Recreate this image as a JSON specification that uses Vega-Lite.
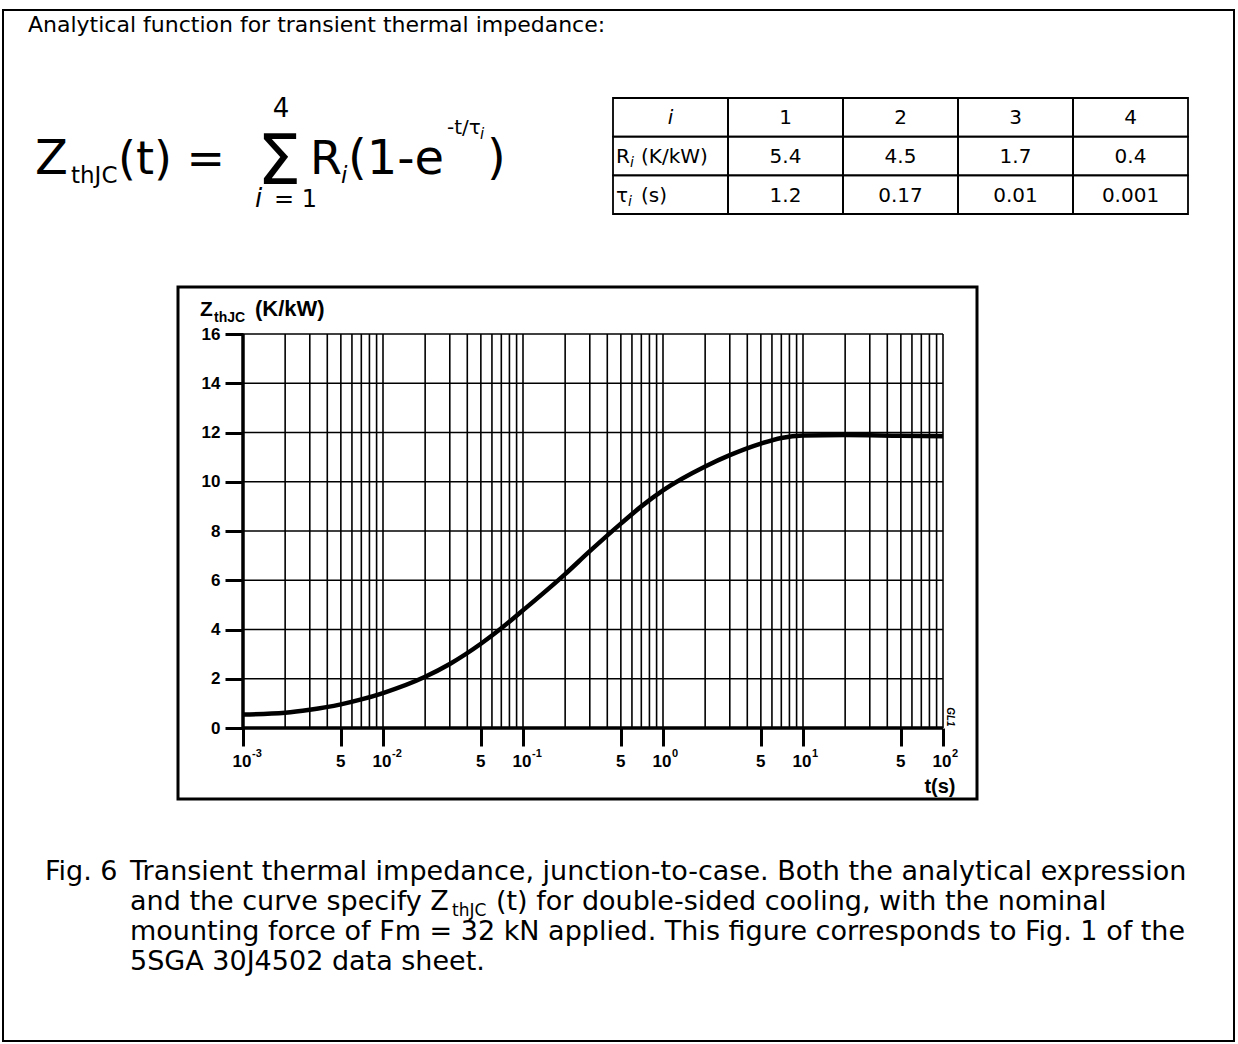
{
  "$schema": "https://vega.github.io/schema/vega-lite/v6.json",
  "background": "white",
  "width": 1231,
  "height": 1031,
  "autosize": {"type": "none"},
  "padding": {"left": 3, "top": 10, "right": 4, "bottom": 3},
  "view": {"stroke": "black", "strokeWidth": 2},
  "config": {
    "text": {"color": "black"},
    "rule": {"color": "black"},
    "line": {"color": "black"}
  },
  "datasets": {
    "curve": [
      {"t": 0.001, "z": 0.55}, {"t": 0.002, "z": 0.62}, {"t": 0.003, "z": 0.74},
      {"t": 0.005, "z": 0.96}, {"t": 0.007, "z": 1.16}, {"t": 0.01, "z": 1.42},
      {"t": 0.02, "z": 2.08}, {"t": 0.03, "z": 2.6}, {"t": 0.05, "z": 3.42},
      {"t": 0.07, "z": 4.05}, {"t": 0.1, "z": 4.78}, {"t": 0.2, "z": 6.25},
      {"t": 0.3, "z": 7.18}, {"t": 0.5, "z": 8.3}, {"t": 0.7, "z": 9.0},
      {"t": 1, "z": 9.65}, {"t": 2, "z": 10.62}, {"t": 3, "z": 11.08},
      {"t": 5, "z": 11.55}, {"t": 7, "z": 11.78}, {"t": 10, "z": 11.88},
      {"t": 20, "z": 11.9}, {"t": 50, "z": 11.87}, {"t": 100, "z": 11.85}
    ],
    "vgrid": [
      {"t": 0.002}, {"t": 0.003}, {"t": 0.004}, {"t": 0.005}, {"t": 0.006}, {"t": 0.007}, {"t": 0.008}, {"t": 0.009},
      {"t": 0.01}, {"t": 0.02}, {"t": 0.03}, {"t": 0.04}, {"t": 0.05}, {"t": 0.06}, {"t": 0.07}, {"t": 0.08}, {"t": 0.09},
      {"t": 0.1}, {"t": 0.2}, {"t": 0.3}, {"t": 0.4}, {"t": 0.5}, {"t": 0.6}, {"t": 0.7}, {"t": 0.8}, {"t": 0.9},
      {"t": 1}, {"t": 2}, {"t": 3}, {"t": 4}, {"t": 5}, {"t": 6}, {"t": 7}, {"t": 8}, {"t": 9},
      {"t": 10}, {"t": 20}, {"t": 30}, {"t": 40}, {"t": 50}, {"t": 60}, {"t": 70}, {"t": 80}, {"t": 90},
      {"t": 100}
    ],
    "hgrid": [
      {"z": 2}, {"z": 4}, {"z": 6}, {"z": 8}, {"z": 10}, {"z": 12}, {"z": 14}, {"z": 16}
    ],
    "xlabels": [
      {"t": 0.001, "base": "10", "exp": "-3"},
      {"t": 0.005, "base": "5", "exp": ""},
      {"t": 0.01, "base": "10", "exp": "-2"},
      {"t": 0.05, "base": "5", "exp": ""},
      {"t": 0.1, "base": "10", "exp": "-1"},
      {"t": 0.5, "base": "5", "exp": ""},
      {"t": 1, "base": "10", "exp": "0"},
      {"t": 5, "base": "5", "exp": ""},
      {"t": 10, "base": "10", "exp": "1"},
      {"t": 50, "base": "5", "exp": ""},
      {"t": 100, "base": "10", "exp": "2"}
    ],
    "table": [
      {"row": "i", "col": "h", "text": "i", "unit": ""},
      {"row": "i", "col": "1", "text": "1", "unit": ""},
      {"row": "i", "col": "2", "text": "2", "unit": ""},
      {"row": "i", "col": "3", "text": "3", "unit": ""},
      {"row": "i", "col": "4", "text": "4", "unit": ""},
      {"row": "R", "col": "h", "text": "R", "unit": "(K/kW)"},
      {"row": "R", "col": "1", "text": "5.4", "unit": ""},
      {"row": "R", "col": "2", "text": "4.5", "unit": ""},
      {"row": "R", "col": "3", "text": "1.7", "unit": ""},
      {"row": "R", "col": "4", "text": "0.4", "unit": ""},
      {"row": "tau", "col": "h", "text": "τ", "unit": "(s)"},
      {"row": "tau", "col": "1", "text": "1.2", "unit": ""},
      {"row": "tau", "col": "2", "text": "0.17", "unit": ""},
      {"row": "tau", "col": "3", "text": "0.01", "unit": ""},
      {"row": "tau", "col": "4", "text": "0.001", "unit": ""}
    ]
  },
  "resolve": {
    "scale": {"x": "independent", "y": "independent"},
    "axis": {"x": "independent", "y": "independent"}
  },
  "layer": [
    {
      "data": {"values": [{"block": "page text"}]},
      "layer": [
        {"mark": {"type": "text", "text": "Analytical function for transient thermal impedance:", "font": "DejaVu Sans", "fontSize": 22, "align": "left", "baseline": "alphabetic", "dx": -590.5, "dy": -493.5}},
        {"mark": {"type": "text", "text": "Z", "font": "DejaVu Sans", "fontSize": 48, "align": "left", "baseline": "alphabetic", "dx": -583.5, "dy": -351.5}},
        {"mark": {"type": "text", "text": "thJC", "font": "DejaVu Sans", "fontSize": 23, "align": "left", "baseline": "alphabetic", "dx": -547.5, "dy": -342.5}},
        {"mark": {"type": "text", "text": "(t) =", "font": "DejaVu Sans", "fontSize": 46, "align": "left", "baseline": "alphabetic", "dx": -500.5, "dy": -351.5}},
        {"mark": {"type": "text", "text": "Σ", "font": "DejaVu Sans", "fontSize": 70, "align": "center", "baseline": "alphabetic", "dx": -339.5, "dy": -341.5}},
        {"mark": {"type": "text", "text": "4", "font": "DejaVu Sans", "fontSize": 26, "align": "center", "baseline": "alphabetic", "dx": -337.5, "dy": -408.5}},
        {"mark": {"type": "text", "text": "i", "font": "DejaVu Sans", "fontStyle": "italic", "fontSize": 26, "align": "left", "baseline": "alphabetic", "dx": -363.5, "dy": -318.5}},
        {"mark": {"type": "text", "text": "= 1", "font": "DejaVu Sans", "fontSize": 24, "align": "left", "baseline": "alphabetic", "dx": -344.5, "dy": -318.5}},
        {"mark": {"type": "text", "text": "R", "font": "DejaVu Sans", "fontSize": 46, "align": "left", "baseline": "alphabetic", "dx": -308.5, "dy": -351.5}},
        {"mark": {"type": "text", "text": "i", "font": "DejaVu Sans", "fontStyle": "italic", "fontSize": 23, "align": "left", "baseline": "alphabetic", "dx": -277.5, "dy": -342.5}},
        {"mark": {"type": "text", "text": "(1-e", "font": "DejaVu Sans", "fontSize": 48, "align": "left", "baseline": "alphabetic", "dx": -270.5, "dy": -351.5}},
        {"mark": {"type": "text", "text": "-t/τ", "font": "DejaVu Sans", "fontSize": 20, "align": "left", "baseline": "alphabetic", "dx": -171.5, "dy": -391.5}},
        {"mark": {"type": "text", "text": "i", "font": "DejaVu Sans", "fontStyle": "italic", "fontSize": 15, "align": "left", "baseline": "alphabetic", "dx": -138.5, "dy": -386.5}},
        {"mark": {"type": "text", "text": ")", "font": "DejaVu Sans", "fontSize": 48, "align": "left", "baseline": "alphabetic", "dx": -131.5, "dy": -351.5}},
        {"mark": {"type": "text", "text": "Fig. 6", "font": "DejaVu Sans", "fontSize": 27, "align": "left", "baseline": "alphabetic", "dx": -573.5, "dy": 354.5}},
        {"mark": {"type": "text", "text": "Transient thermal impedance, junction-to-case. Both the analytical expression", "font": "DejaVu Sans", "fontSize": 27, "align": "left", "baseline": "alphabetic", "dx": -488.5, "dy": 354.5}},
        {"mark": {"type": "text", "text": "and the curve specify Z", "font": "DejaVu Sans", "fontSize": 27, "align": "left", "baseline": "alphabetic", "dx": -488.5, "dy": 384.5}},
        {"mark": {"type": "text", "text": "thJC", "font": "DejaVu Sans", "fontSize": 17, "align": "left", "baseline": "alphabetic", "dx": -166.5, "dy": 390.5}},
        {"mark": {"type": "text", "text": "(t) for double-sided cooling, with the nominal", "font": "DejaVu Sans", "fontSize": 27, "align": "left", "baseline": "alphabetic", "dx": -122.5, "dy": 384.5}},
        {"mark": {"type": "text", "text": "mounting force of Fm = 32 kN applied. This figure corresponds to Fig. 1 of the", "font": "DejaVu Sans", "fontSize": 27, "align": "left", "baseline": "alphabetic", "dx": -488.5, "dy": 414.5}},
        {"mark": {"type": "text", "text": "5SGA 30J4502 data sheet.", "font": "DejaVu Sans", "fontSize": 27, "align": "left", "baseline": "alphabetic", "dx": -488.5, "dy": 444.5}}
      ]
    },
    {
      "data": {"name": "table"},
      "encoding": {
        "x": {"field": "col", "type": "nominal", "scale": {"domain": ["h", "1", "2", "3", "4"], "range": [610, 1185], "paddingInner": 0, "paddingOuter": 0}, "axis": null},
        "y": {"field": "row", "type": "nominal", "scale": {"domain": ["i", "R", "tau"], "range": [88, 204], "paddingInner": 0, "paddingOuter": 0}, "axis": null}
      },
      "layer": [
        {
          "mark": {"type": "rect", "filled": false, "color": "black", "strokeWidth": 1.8}
        },
        {
          "transform": [{"filter": "datum.col != 'h'"}],
          "mark": {"type": "text", "font": "DejaVu Sans", "fontSize": 20, "align": "center", "baseline": "middle", "dy": 1},
          "encoding": {"text": {"field": "text"}}
        },
        {
          "transform": [{"filter": "datum.col == 'h' && datum.row == 'i'"}],
          "mark": {"type": "text", "font": "DejaVu Sans", "fontStyle": "italic", "fontSize": 20, "align": "center", "baseline": "middle", "dy": 1},
          "encoding": {"text": {"field": "text"}}
        },
        {
          "transform": [{"filter": "datum.col == 'h' && datum.row != 'i'"}],
          "mark": {"type": "text", "font": "DejaVu Sans", "fontSize": 20, "align": "left", "baseline": "middle", "dx": 3, "dy": 1},
          "encoding": {"x": {"field": "col", "type": "nominal", "bandPosition": 0}, "text": {"field": "text"}}
        },
        {
          "transform": [{"filter": "datum.col == 'h' && datum.row == 'R'"}],
          "mark": {"type": "text", "text": "i", "font": "DejaVu Sans", "fontStyle": "italic", "fontSize": 14, "align": "left", "baseline": "middle", "dx": 17, "dy": 7},
          "encoding": {"x": {"field": "col", "type": "nominal", "bandPosition": 0}}
        },
        {
          "transform": [{"filter": "datum.col == 'h' && datum.row == 'tau'"}],
          "mark": {"type": "text", "text": "i", "font": "DejaVu Sans", "fontStyle": "italic", "fontSize": 14, "align": "left", "baseline": "middle", "dx": 15, "dy": 7},
          "encoding": {"x": {"field": "col", "type": "nominal", "bandPosition": 0}}
        },
        {
          "transform": [{"filter": "datum.col == 'h' && datum.row != 'i'"}],
          "mark": {"type": "text", "font": "DejaVu Sans", "fontSize": 20, "align": "left", "baseline": "middle", "dx": 28, "dy": 1},
          "encoding": {"x": {"field": "col", "type": "nominal", "bandPosition": 0}, "text": {"field": "unit"}}
        }
      ]
    },
    {
      "data": {"values": [{"frame": "chart"}]},
      "mark": {"type": "rect", "filled": false, "color": "black", "strokeWidth": 3},
      "encoding": {
        "x": {"field": "frame", "type": "nominal", "scale": {"range": [175, 974], "paddingInner": 0, "paddingOuter": 0}, "axis": null},
        "y": {"field": "frame", "type": "nominal", "scale": {"range": [277, 789], "paddingInner": 0, "paddingOuter": 0}, "axis": null}
      }
    },
    {
      "layer": [
        {
          "data": {"name": "hgrid"},
          "mark": {"type": "rule", "strokeWidth": 1.6},
          "encoding": {
            "x": {"datum": 0.001, "scale": {"type": "log", "domain": [0.001, 100], "range": [240, 940], "nice": false}},
            "x2": {"datum": 100},
            "y": {
              "field": "z", "type": "quantitative",
              "scale": {"type": "linear", "domain": [0, 16], "range": [718, 324], "nice": false, "zero": false},
              "axis": {
                "values": [0, 2, 4, 6, 8, 10, 12, 14, 16],
                "format": "d",
                "offset": -240, "domain": false, "grid": false,
                "tickSize": 18, "tickWidth": 3, "tickColor": "black",
                "labelFont": "Liberation Sans", "labelFontSize": 17, "labelFontWeight": "bold", "labelColor": "black",
                "labelPadding": 5, "labelOverlap": false, "labelFlush": false, "labelBound": false,
                "title": null
              }
            }
          }
        },
        {
          "data": {"name": "vgrid"},
          "mark": {"type": "rule", "strokeWidth": 1.6},
          "encoding": {
            "x": {
              "field": "t", "type": "quantitative",
              "scale": {"type": "log", "domain": [0.001, 100], "range": [240, 940], "nice": false},
              "axis": {
                "values": [0.001, 0.005, 0.01, 0.05, 0.1, 0.5, 1, 5, 10, 50, 100],
                "labels": false,
                "offset": -313, "domain": false, "grid": false,
                "tickSize": 18, "tickWidth": 3, "tickColor": "black",
                "title": "t(s)", "titleFont": "Liberation Sans", "titleFontSize": 20, "titleFontWeight": "bold", "titleColor": "black",
                "titleX": 952, "titleY": 64, "titleAlign": "right", "titleBaseline": "alphabetic"
              }
            },
            "y": {"datum": 0, "scale": {"type": "linear", "domain": [0, 16], "range": [718, 324], "nice": false, "zero": false}},
            "y2": {"datum": 16}
          }
        },
        {
          "data": {"values": [{"line": "time axis"}]},
          "mark": {"type": "rule", "strokeWidth": 3.5},
          "encoding": {"x": {"datum": 0.001}, "x2": {"datum": 100}, "y": {"datum": 0}}
        },
        {
          "data": {"values": [{"line": "impedance axis"}]},
          "mark": {"type": "rule", "strokeWidth": 3.5},
          "encoding": {"x": {"datum": 0.001}, "y": {"datum": 0}, "y2": {"datum": 16}}
        },
        {
          "data": {"name": "curve"},
          "mark": {"type": "line", "strokeWidth": 4.5, "interpolate": "monotone", "strokeCap": "butt"},
          "encoding": {
            "x": {"field": "t", "type": "quantitative"},
            "y": {"field": "z", "type": "quantitative"}
          }
        },
        {
          "data": {"name": "xlabels"},
          "encoding": {"x": {"field": "t", "type": "quantitative"}, "y": {"datum": 0}},
          "layer": [
            {
              "transform": [{"filter": "datum.exp != ''"}],
              "mark": {"type": "text", "font": "Liberation Sans", "fontWeight": "bold", "fontSize": 17, "align": "center", "baseline": "alphabetic", "dx": -1, "dy": 39},
              "encoding": {"text": {"field": "base"}}
            },
            {
              "transform": [{"filter": "datum.exp == ''"}],
              "mark": {"type": "text", "font": "Liberation Sans", "fontWeight": "bold", "fontSize": 17, "align": "center", "baseline": "alphabetic", "dx": 0, "dy": 39},
              "encoding": {"text": {"field": "base"}}
            },
            {
              "transform": [{"filter": "datum.exp != ''"}],
              "mark": {"type": "text", "font": "Liberation Sans", "fontWeight": "bold", "fontSize": 11, "align": "left", "baseline": "alphabetic", "dx": 9, "dy": 29},
              "encoding": {"text": {"field": "exp"}}
            }
          ]
        },
        {
          "data": {"values": [{"label": "impedance title"}]},
          "encoding": {"x": {"datum": 0.001}, "y": {"datum": 16}},
          "layer": [
            {"mark": {"type": "text", "text": "Z", "font": "Liberation Sans", "fontWeight": "bold", "fontSize": 21, "align": "left", "baseline": "alphabetic", "dx": -43, "dy": -18}},
            {"mark": {"type": "text", "text": "thJC", "font": "Liberation Sans", "fontWeight": "bold", "fontSize": 14, "align": "left", "baseline": "alphabetic", "dx": -29, "dy": -12}},
            {"mark": {"type": "text", "text": "(K/kW)", "font": "Liberation Sans", "fontWeight": "bold", "fontSize": 22, "align": "left", "baseline": "alphabetic", "dx": 12, "dy": -18}}
          ]
        },
        {
          "data": {"values": [{"label": "drawing id"}]},
          "mark": {"type": "text", "text": "GL1", "font": "Liberation Sans", "fontWeight": "bold", "fontStyle": "italic", "fontSize": 10, "angle": 90, "align": "center", "baseline": "middle"},
          "encoding": {"x": {"datum": 112}, "y": {"datum": 0.45}}
        }
      ]
    }
  ]
}
